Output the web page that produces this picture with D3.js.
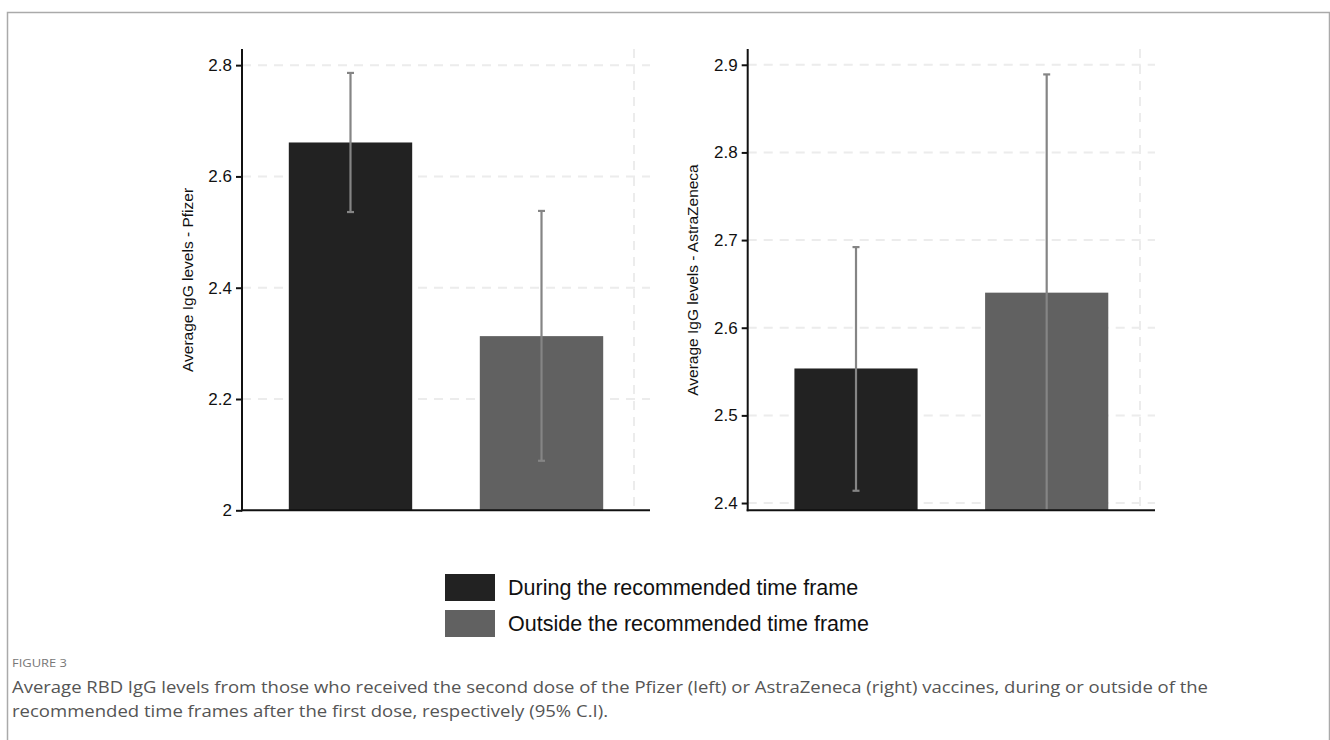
<!DOCTYPE html>
<html><head><meta charset="utf-8">
<script src="https://cdn.jsdelivr.net/npm/d3@7"></script>
<style>body{margin:0;background:#fff}svg{display:block}</style>
</head><body>
<svg id="c" width="1330" height="740"></svg>
<script>
const groups = ["During the recommended time frame", "Outside the recommended time frame"];
const colors = ["#222222", "#616161"];
// Pfizer
const pfizerMean = [2.661, 2.313];
const pfizerLow  = [2.536, 2.089];
const pfizerHigh = [2.786, 2.538];
const pfizerTicks = [2, 2.2, 2.4, 2.6, 2.8];
const pfizerDomain = [2, 2.829];
// AstraZeneca
const azMean = [2.5535, 2.640];
const azLow  = [2.414, 2.3917];
const azHigh = [2.692, 2.889];
const azTicks = [2.4, 2.5, 2.6, 2.7, 2.8, 2.9];
const azDomain = [2.3917, 2.918];

const FONT = "'Liberation Sans', Arial, Helvetica, sans-serif";
const svg = d3.select("#c");
// frame
svg.append("path").attr("d","M7.5,740 V12.5 H1329.5 V740").attr("fill","none").attr("stroke","#aaaaaa").attr("stroke-width",1.5);

function panel(opts){
  const g = svg.append("g");
  const y = d3.scaleLinear().domain(opts.domain).range([510.3, 49]);
  const x = d3.scaleBand().domain(groups).range([opts.x0, opts.x1]).paddingInner(0.354).paddingOuter(0.245);
  // gridlines
  g.selectAll(".hg").data(opts.ticks.filter(t=>t>opts.domain[0]+1e-9 || opts.gridBottom)).enter().append("line")
    .attr("x1", opts.x0).attr("x2", opts.x1)
    .attr("y1", d=>y(d)).attr("y2", d=>y(d))
    .attr("stroke","#ececec").attr("stroke-width",2).attr("stroke-dasharray","9,7");
  g.append("line").attr("x1", opts.vgrid).attr("x2", opts.vgrid).attr("y1", 49).attr("y2", 510)
    .attr("stroke","#ececec").attr("stroke-width",2).attr("stroke-dasharray","9,7");
  // bars
  g.selectAll(".bar").data(groups).enter().append("rect")
    .attr("x", d=>x(d)).attr("width", x.bandwidth())
    .attr("y", (d,i)=>y(opts.mean[i])).attr("height", (d,i)=>y(opts.domain[0])-y(opts.mean[i]))
    .attr("fill", (d,i)=>colors[i]);
  // error bars
  const eb = g.selectAll(".eb").data(groups).enter().append("g");
  const cx = d=>x(d)+x.bandwidth()/2;
  eb.append("line").attr("x1",cx).attr("x2",cx)
    .attr("y1",(d,i)=>y(opts.low[i])).attr("y2",(d,i)=>y(opts.high[i]))
    .attr("stroke","#858585").attr("stroke-width",2.2);
  eb.append("line").attr("x1",d=>cx(d)-3.5).attr("x2",d=>cx(d)+3.5)
    .attr("y1",(d,i)=>y(opts.high[i])).attr("y2",(d,i)=>y(opts.high[i]))
    .attr("stroke","#858585").attr("stroke-width",2.2);
  eb.filter((d,i)=>opts.low[i]>opts.domain[0]+0.001).append("line").attr("x1",d=>cx(d)-3.5).attr("x2",d=>cx(d)+3.5)
    .attr("y1",(d,i)=>y(opts.low[i])).attr("y2",(d,i)=>y(opts.low[i]))
    .attr("stroke","#858585").attr("stroke-width",2.2);
  // y axis
  const ya = g.append("g").attr("transform",`translate(${opts.x0},0)`)
    .call(d3.axisLeft(y).tickValues(opts.ticks).tickSize(6).tickPadding(4).tickFormat(d=>d3.format("")(+d.toFixed(1))));
  ya.attr("font-family",FONT).attr("font-size",17);
  ya.select(".domain").remove();
  ya.selectAll(".tick line").attr("stroke","#111").attr("stroke-width",2);
  ya.selectAll("text").style("font-family",FONT).style("font-size","17px").attr("fill","#111");
  g.append("line").attr("x1",opts.x0).attr("x2",opts.x0).attr("y1",49).attr("y2",511.3).attr("stroke","#111").attr("stroke-width",2);
  g.append("line").attr("x1",opts.x0-1).attr("x2",opts.xEnd).attr("y1",510.3).attr("y2",510.3).attr("stroke","#111").attr("stroke-width",2);
  // axis title
  g.append("text").attr("transform",`translate(${opts.titleX},280) rotate(-90)`)
    .attr("text-anchor","middle").style("font-family",FONT)
    .style("font-size","15.5px").attr("fill","#111").text(opts.title);
}

panel({x0:242, x1:650, xEnd:650, vgrid:634, domain:pfizerDomain, ticks:pfizerTicks,
  mean:pfizerMean, low:pfizerLow, high:pfizerHigh, title:"Average IgG levels - Pfizer", titleX:193});
panel({x0:747.7, x1:1155, xEnd:1155, vgrid:1140, domain:azDomain, ticks:azTicks, gridBottom:true,
  mean:azMean, low:azLow, high:azHigh, title:"Average IgG levels - AstraZeneca", titleX:698});

// legend
const lg = svg.append("g");
groups.forEach((gname,i)=>{
  lg.append("rect").attr("x",445).attr("y",574+i*36).attr("width",50).attr("height",27).attr("fill",colors[i]);
  lg.append("text").attr("x",508).attr("y",594.5+i*36).style("font-family",FONT)
    .style("font-size","21.5px").attr("fill","#111").text(gname);
});

// caption
svg.append("text").attr("x",12).attr("y",667).style("font-family","'Open Sans', sans-serif").style("font-size","11.5px")
  .attr("fill","#777").attr("textLength",55).attr("lengthAdjust","spacingAndGlyphs").text("FIGURE 3");
svg.append("text").attr("x",12).attr("y",693).style("font-family","'Open Sans', sans-serif").style("font-size","16px")
  .attr("fill","#555").attr("textLength",1196).attr("lengthAdjust","spacingAndGlyphs")
  .text("Average RBD IgG levels from those who received the second dose of the Pfizer (left) or AstraZeneca (right) vaccines, during or outside of the");
svg.append("text").attr("x",12).attr("y",717).style("font-family","'Open Sans', sans-serif").style("font-size","16px")
  .attr("fill","#555").attr("textLength",596).attr("lengthAdjust","spacingAndGlyphs")
  .text("recommended time frames after the first dose, respectively (95% C.I).");
</script>
</body></html>
